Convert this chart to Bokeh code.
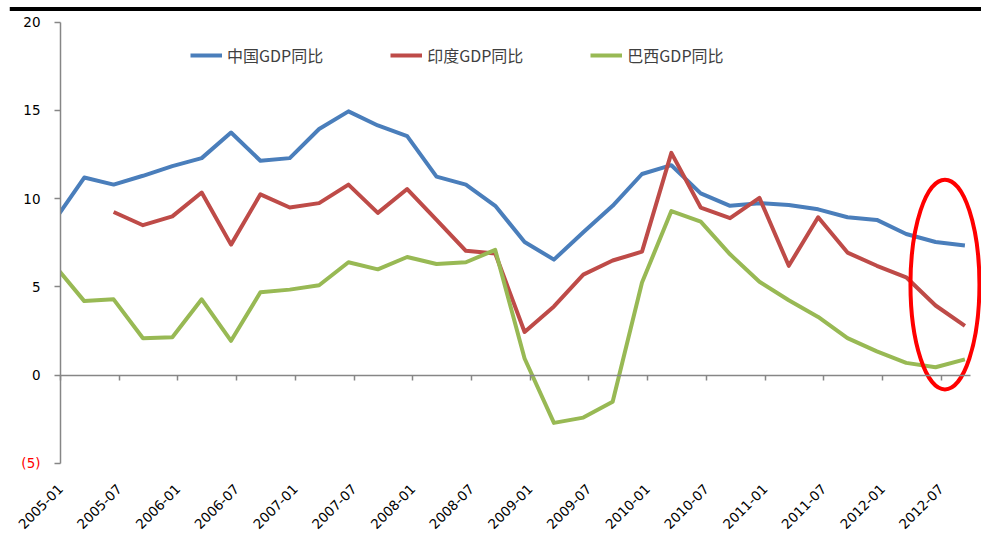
import numpy as np
from math import pi

from bokeh.plotting import figure
from bokeh.models import (LinearAxis, FixedTicker, Range1d, Span, BoxAnnotation,
                          Legend, LegendItem)
from bokeh.embed import file_html
from bokeh.resources import INLINE

# Quarterly year-on-year GDP growth (%)
periods = [
    "2004-12",
    "2005-03", "2005-06", "2005-09", "2005-12",
    "2006-03", "2006-06", "2006-09", "2006-12",
    "2007-03", "2007-06", "2007-09", "2007-12",
    "2008-03", "2008-06", "2008-09", "2008-12",
    "2009-03", "2009-06", "2009-09", "2009-12",
    "2010-03", "2010-06", "2010-09", "2010-12",
    "2011-03", "2011-06", "2011-09", "2011-12",
    "2012-03", "2012-06", "2012-09",
]

china = [8.8,
         11.2, 10.8, 11.3, 11.85, 12.3, 13.75, 12.15, 12.3,
         13.95, 14.95, 14.15, 13.55, 11.25, 10.8, 9.6, 7.55,
         6.55, 8.1, 9.6, 11.4, 11.9, 10.3, 9.6, 9.75,
         9.65, 9.4, 8.95, 8.8, 8.0, 7.55, 7.35]

india = [np.nan,
         np.nan, 9.25, 8.5, 9.0, 10.35, 7.4, 10.25, 9.5,
         9.75, 10.8, 9.2, 10.55, 8.8, 7.05, 6.9, 2.45,
         3.9, 5.7, 6.5, 7.0, 12.6, 9.5, 8.9, 10.05,
         6.2, 8.95, 6.95, 6.2, 5.55, 3.95, 2.8]

brazil = [6.2,
          4.2, 4.3, 2.1, 2.15, 4.3, 1.95, 4.7, 4.85,
          5.1, 6.4, 6.0, 6.7, 6.3, 6.4, 7.1, 0.95,
          -2.7, -2.4, -1.5, 5.25, 9.3, 8.7, 6.85, 5.3,
          4.25, 3.3, 2.1, 1.35, 0.7, 0.45, 0.9]

series_names = ["中国GDP同比", "印度GDP同比", "巴西GDP同比"]

tick_labels = ["2005-01", "2005-07", "2006-01", "2006-07", "2007-01", "2007-07",
               "2008-01", "2008-07", "2009-01", "2009-07", "2010-01", "2010-07",
               "2011-01", "2011-07", "2012-01", "2012-07"]

y_ticks = [0, 5, 10, 15, 20]
y_neg_tick = -5
y_neg_label = "(5)"

# x is measured in quarters from 2005-01; each observation sits a little
# before the next half-year tick
POINT_OFFSET = 0.81
x = np.arange(len(periods)) - 1 + POINT_OFFSET
tick_pos = [2 * i for i in range(len(tick_labels))]
axis_end = tick_pos[-1] + 1

colors = ["#4A7EBB", "#BE4B48", "#98B954"]
GRAY = "#868686"
FONT = "DejaVu Sans"

p = figure(width=981, height=537, output_backend="svg", toolbar_location=None,
           x_range=Range1d(-1.737, 31.375), y_range=Range1d(-5.68, 21.23),
           x_axis_location=None, y_axis_location=None,
           min_border_left=9, min_border_right=0, min_border_top=0,
           min_border_bottom=62)
p.outline_line_color = None
p.xgrid.visible = False
p.ygrid.visible = False
p.background_fill_color = "white"
p.border_fill_color = "white"

renderers = []
for vals, col in zip([china, india, brazil], colors):
    r = p.line(x, vals, line_color=col, line_width=4, line_join="round",
               level="underlay")
    renderers.append(r)

# hide the part of the series left of the value axis
p.add_layout(BoxAnnotation(right=0, fill_color="white", fill_alpha=1.0,
                           line_alpha=0, level="glyph"))

# highlight of the latest quarters
p.ellipse(x=[30.13], y=[5.14], width=2.35, height=11.9, fill_color=None,
          line_color="#FF0000", line_width=4)

# category labels along the bottom
xlab = LinearAxis(ticker=FixedTicker(ticks=tick_pos),
                  major_label_overrides={t: s for t, s in zip(tick_pos, tick_labels)},
                  axis_line_color=None, major_tick_line_color=None,
                  minor_tick_line_color=None, major_tick_out=0, major_tick_in=0,
                  major_label_orientation=pi / 4, major_label_standoff=11,
                  major_label_text_font=FONT, major_label_text_font_size="13.5px",
                  major_label_text_color="black")
p.add_layout(xlab, "below")

# zero line with its tick marks
xzero = LinearAxis(fixed_location=0, bounds=(0, axis_end),
                   ticker=FixedTicker(ticks=tick_pos),
                   axis_line_color=GRAY, axis_line_width=1.5,
                   major_tick_line_color=GRAY, major_tick_line_width=1.5,
                   major_tick_out=5, major_tick_in=0,
                   minor_tick_line_color=None, major_label_text_alpha=0,
                   major_label_text_font_size="1px")
p.add_layout(xzero, "below")

# value axis
yax = LinearAxis(fixed_location=0, bounds=(y_neg_tick, y_ticks[-1]),
                 ticker=FixedTicker(ticks=y_ticks),
                 axis_line_color=GRAY, axis_line_width=1.5,
                 major_tick_line_color=GRAY, major_tick_line_width=1.5,
                 major_tick_out=6, major_tick_in=0, minor_tick_line_color=None,
                 major_label_standoff=14, major_label_text_font=FONT,
                 major_label_text_font_size="13.5px", major_label_text_color="black")
p.add_layout(yax, "left")

yneg = LinearAxis(fixed_location=0, ticker=FixedTicker(ticks=[y_neg_tick]),
                  major_label_overrides={y_neg_tick: y_neg_label},
                  axis_line_color=None,
                  major_tick_line_color=GRAY, major_tick_line_width=1.5,
                  major_tick_out=6, major_tick_in=0, minor_tick_line_color=None,
                  major_label_standoff=14, major_label_text_font=FONT,
                  major_label_text_font_size="13.5px", major_label_text_color="#FF0000")
p.add_layout(yneg, "left")

# heavy rule across the top
p.add_layout(Span(location=20.75, dimension="width", line_color="black",
                  line_width=4))

legend = Legend(items=[LegendItem(label=n, renderers=[r])
                       for n, r in zip(series_names, renderers)],
                orientation="horizontal", location=(181, 408),
                glyph_width=32, glyph_height=20, label_height=20,
                label_standoff=5, spacing=67, padding=0, margin=0,
                border_line_alpha=0, background_fill_alpha=0,
                label_text_font="Noto Sans CJK SC", label_text_font_size="16px",
                label_text_color="#404040")
p.add_layout(legend)

open("out.html", "w").write(file_html(p, INLINE))
